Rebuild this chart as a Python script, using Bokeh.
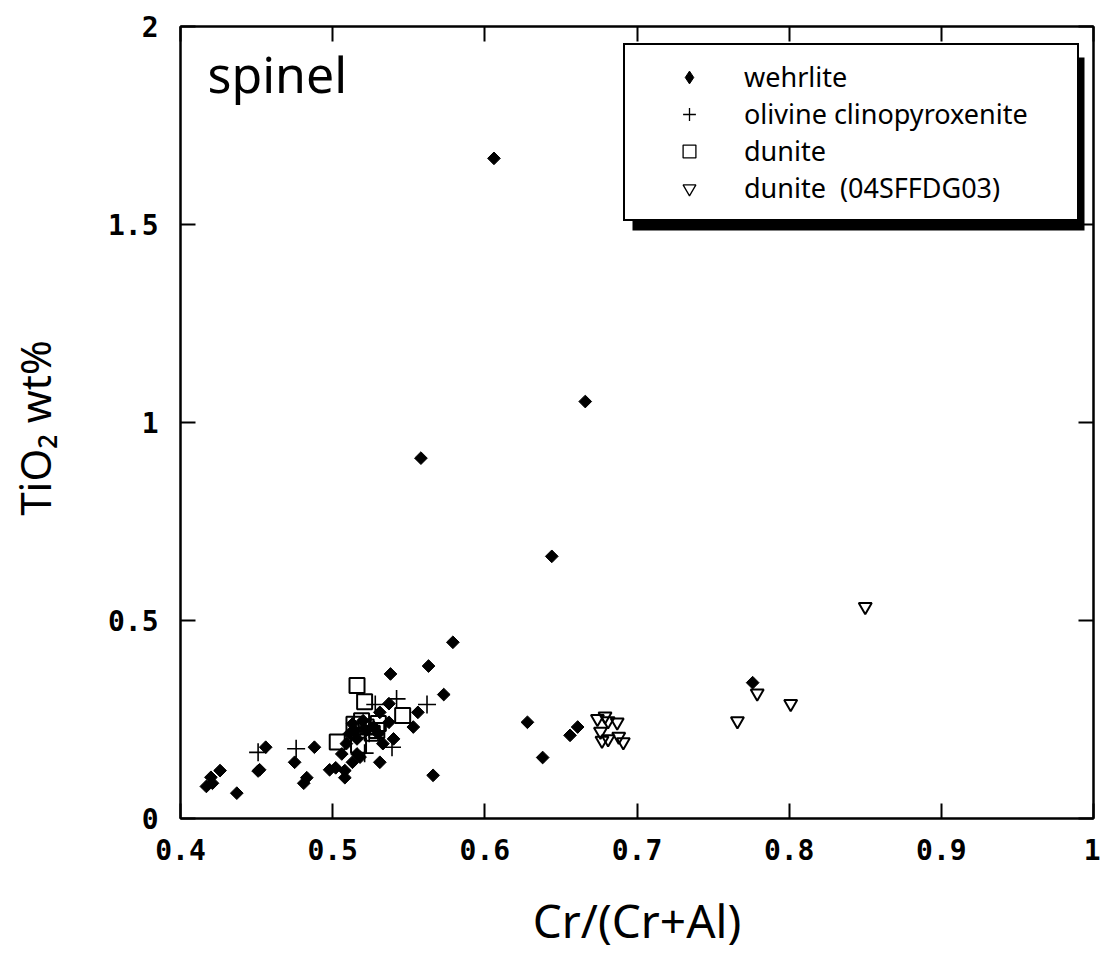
import math
from bokeh.plotting import figure
from bokeh.models import (FixedTicker, LinearAxis, Legend, LegendItem, BoxAnnotation,
                          Label, Range1d, CustomJSTickFormatter)
from bokeh.embed import file_html
from bokeh.resources import INLINE

# ---------------- data ----------------
wehrlite_x = [0.606, 0.666, 0.558, 0.644, 0.579, 0.563, 0.538, 0.573, 0.556, 0.553,
              0.537, 0.537, 0.531, 0.540, 0.533, 0.531, 0.566, 0.456, 0.488, 0.452,
              0.451, 0.475, 0.483, 0.481, 0.426, 0.420, 0.421, 0.417, 0.437, 0.498,
              0.502, 0.508, 0.508, 0.506, 0.513, 0.516, 0.518, 0.509, 0.513, 0.511,
              0.520, 0.527, 0.530, 0.522, 0.514, 0.516, 0.628, 0.638, 0.656, 0.661,
              0.776]
wehrlite_y = [1.667, 1.053, 0.910, 0.662, 0.445, 0.385, 0.365, 0.313, 0.268, 0.231,
              0.290, 0.243, 0.268, 0.201, 0.189, 0.142, 0.109, 0.180, 0.180, 0.123,
              0.120, 0.142, 0.103, 0.089, 0.121, 0.104, 0.089, 0.081, 0.064, 0.123,
              0.128, 0.121, 0.103, 0.163, 0.142, 0.163, 0.155, 0.189, 0.239, 0.214,
              0.247, 0.231, 0.214, 0.222, 0.222, 0.201, 0.243, 0.154, 0.210, 0.231,
              0.343]

olcpx_x = [0.451, 0.476, 0.542, 0.562, 0.539, 0.521, 0.528, 0.518, 0.524]
olcpx_y = [0.167, 0.176, 0.302, 0.288, 0.180, 0.165, 0.288, 0.230, 0.215]

dunite_x = [0.516, 0.521, 0.546, 0.503, 0.517, 0.519, 0.522, 0.529, 0.514, 0.526, 0.530]
dunite_y = [0.336, 0.295, 0.260, 0.193, 0.185, 0.247, 0.231, 0.222, 0.238, 0.215, 0.240]

dunite03_x = [0.674, 0.679, 0.681, 0.687, 0.676, 0.677, 0.681, 0.688, 0.691,
              0.779, 0.801, 0.766, 0.850]
dunite03_y = [0.252, 0.258, 0.246, 0.243, 0.220, 0.197, 0.201, 0.207, 0.193,
              0.316, 0.290, 0.246, 0.535]

series_names = ["wehrlite", "olivine clinopyroxenite", "dunite", "dunite  (04SFFDG03)"]

x_ticks = [0.4, 0.5, 0.6, 0.7, 0.8, 0.9, 1.0]
x_tick_labels = ["0.4", "0.5", "0.6", "0.7", "0.8", "0.9", "1"]
y_ticks = [0.0, 0.5, 1.0, 1.5, 2.0]
y_tick_labels = ["0", "0.5", "1", "1.5", "2"]

# ---------------- layout ----------------
W, H = 1100, 960
FL, FR, FT, FB = 180, 1093, 26, 818
X0, X1, Y0, Y1 = 0.4, 1.0, 0.0, 2.0


def px2x(px):
    return X0 + (px - FL) / (FR - FL) * (X1 - X0)


def py2y(py):
    return Y0 + (FB - py) / (FB - FT) * (Y1 - Y0)


p = figure(width=W, height=H, output_backend="svg", toolbar_location=None,
           x_range=Range1d(X0, X1), y_range=Range1d(Y0, Y1),
           min_border_left=FL, min_border_right=W - FR,
           min_border_top=FT, min_border_bottom=H - FB,
           background_fill_color="white", border_fill_color="white")
p.grid.visible = False
p.outline_line_color = "black"
p.outline_line_width = 2

TICK_FONT = "DejaVu Sans Mono"
SANS = "Noto Sans"


def style_axis(ax):
    ax.axis_line_color = "black"
    ax.axis_line_width = 2
    ax.major_tick_line_color = "black"
    ax.major_tick_line_width = 2
    ax.major_tick_in = 15
    ax.major_tick_out = 0
    ax.minor_tick_line_color = None


xa = p.xaxis[0]
xa.ticker = FixedTicker(ticks=x_ticks)
xa.major_label_overrides = dict(zip(x_ticks, x_tick_labels))
style_axis(xa)
xa.major_label_standoff = 20
xa.major_label_text_font = TICK_FONT
xa.major_label_text_font_size = "28px"
xa.major_label_text_font_style = "bold"
xa.major_label_text_color = "black"
xa.axis_label = "Cr/(Cr+Al)"
xa.axis_label_text_font = SANS
xa.axis_label_text_font_style = "normal"
xa.axis_label_text_font_size = "46px"
xa.axis_label_text_color = "black"
xa.axis_label_standoff = 26

ya = p.yaxis[0]
ya.ticker = FixedTicker(ticks=y_ticks)
ya.major_label_overrides = dict(zip(y_ticks, y_tick_labels))
style_axis(ya)
ya.major_label_standoff = 22
ya.major_label_text_font = TICK_FONT
ya.major_label_text_font_size = "28px"
ya.major_label_text_font_style = "bold"
ya.major_label_text_color = "black"
ya.axis_label = "TiO\u2082  wt%"
ya.axis_label_text_font = SANS
ya.axis_label_text_font_style = "normal"
ya.axis_label_text_font_size = "42px"
ya.axis_label_text_color = "black"
ya.axis_label_standoff = 42

blank = CustomJSTickFormatter(code="return ''")
top = LinearAxis(ticker=FixedTicker(ticks=x_ticks), formatter=blank,
                 major_label_text_font_size="1px", major_label_standoff=0)
style_axis(top)
right = LinearAxis(ticker=FixedTicker(ticks=y_ticks), formatter=blank,
                   major_label_text_font_size="1px", major_label_standoff=0)
style_axis(right)
p.add_layout(top, "above")
p.add_layout(right, "right")

# ---------------- data marks ----------------
r_tri = p.scatter(dunite03_x, dunite03_y, marker="inverted_triangle", size=13,
                  fill_color=None, line_color="black", line_width=2)
r_sq = p.scatter(dunite_x, dunite_y, marker="square", size=15,
                 fill_color=None, line_color="black", line_width=2)
r_cross = p.scatter(olcpx_x, olcpx_y, marker="cross", size=18,
                    line_color="black", line_width=1.6)
r_dia = p.scatter(wehrlite_x, wehrlite_y, marker="square", angle=math.pi / 4, size=9,
                  fill_color="black", line_color="black", line_width=1)

# legend swatches: renderers with a single non-plotted (NaN) entry, carrying legend styling
NAN = [float("nan")]
l_dia = p.scatter(NAN, NAN, marker="diamond", fill_color="black", line_color="black",
                  line_width=1)
l_cross = p.scatter(NAN, NAN, marker="cross", line_color="black", line_width=1.3)
l_sq = p.scatter(NAN, NAN, marker="square", fill_color=None, line_color="black",
                 line_width=1.3)
l_tri = p.scatter(NAN, NAN, marker="inverted_triangle", fill_color=None,
                  line_color="black", line_width=1.3)

# ---------------- legend with drop shadow ----------------
LG_L, LG_T, LG_W, LG_H = 623, 48, 452, 173
SH = 9
shadow = BoxAnnotation(left=px2x(LG_L + SH), right=px2x(LG_L + LG_W + SH),
                       top=py2y(LG_T + SH), bottom=py2y(LG_T + LG_H + SH),
                       fill_color="black", fill_alpha=1.0, line_color=None)
p.add_layout(shadow)

legend = Legend(items=[LegendItem(label=series_names[0], renderers=[l_dia]),
                       LegendItem(label=series_names[1], renderers=[l_cross]),
                       LegendItem(label=series_names[2], renderers=[l_sq]),
                       LegendItem(label=series_names[3], renderers=[l_tri])],
                location=(LG_L - FL, FB - (LG_T + LG_H)),
                orientation="vertical",
                padding=13, spacing=0, margin=0,
                glyph_width=102, glyph_height=32,
                label_height=35, label_width=320, label_standoff=4,
                label_text_font=SANS, label_text_font_size="27px",
                label_text_color="black",
                border_line_color="black", border_line_width=2, border_line_alpha=1.0,
                background_fill_color="white", background_fill_alpha=1.0)
p.add_layout(legend, "center")

p.add_layout(Label(x=px2x(207), y=py2y(73), text="spinel",
                   text_font=SANS, text_font_size="50px",
                   text_baseline="middle", text_color="black"))

open("out.html", "w").write(file_html(p, INLINE))
